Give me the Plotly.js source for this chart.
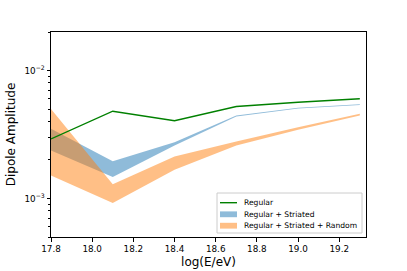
<!DOCTYPE html>
<html><head><meta charset="utf-8">
<script src="https://cdn.plot.ly/plotly-3.0.1.min.js"></script>
<style>html,body{margin:0;padding:0;background:#fff}#c{width:407px;height:271px}</style>
</head><body><div id="c"></div>
<script>
const energy = [17.8, 18.1, 18.4, 18.7, 19.0, 19.3];
const regular = [0.00292, 0.00481, 0.00405, 0.00523, 0.00565, 0.00601];
const striatedLow = [0.00237, 0.00147, 0.00259, 0.00438, 0.00505, 0.00538];
const striatedHigh = [0.00350, 0.00195, 0.00275, 0.00446, 0.00512, 0.00546];
const randomLow = [0.00151, 0.00092, 0.00168, 0.00260, 0.00345, 0.00445];
const randomHigh = [0.00500, 0.00129, 0.00213, 0.00279, 0.00360, 0.00460];
const seriesNames = ['Regular', 'Regular + Striated', 'Regular + Striated + Random'];
const xTickVals = [17.8, 18.0, 18.2, 18.4, 18.6, 18.8, 19.0, 19.2];
const xTickText = ['17.8', '18.0', '18.2', '18.4', '18.6', '18.8', '19.0', '19.2'];
const yTickVals = [0.001, 0.01];
const yTickText = ['10<sup>−3</sup>', '10<sup>−2</sup>'];
const yMinorVals = [0.0005,0.0006,0.0007,0.0008,0.0009,0.002,0.003,0.004,0.005,0.006,0.007,0.008,0.009,0.02];

const GREEN = '#008000', BLUE = 'rgba(31,119,180,0.5)', ORANGE = 'rgba(255,127,14,0.5)';
function band(lo, hi){
  return {x: energy.concat(energy.slice().reverse()), y: hi.concat(lo.slice().reverse())};
}
const b1 = band(striatedLow, striatedHigh);
const b2 = band(randomLow, randomHigh);
const traces = [
  {x: b1.x, y: b1.y, type: 'scatter', mode: 'lines', fill: 'toself', fillcolor: BLUE, line: {width: 0}, name: seriesNames[1], showlegend: false},
  {x: b2.x, y: b2.y, type: 'scatter', mode: 'lines', fill: 'toself', fillcolor: ORANGE, line: {width: 0}, name: seriesNames[2], showlegend: false},
  {x: energy, y: regular, type: 'scatter', mode: 'lines', line: {color: GREEN, width: 1.4}, name: seriesNames[0], showlegend: false}
];
// legend drawn by hand (paper coords of plot area: 51..366 x 32..237 px)
const L = 51, W = 315, B = 237, H = 205;
const px = v => (v - L) / W, py = v => (B - v) / H;
const legRows = [202.7, 214.3, 225.7];
const shapes = [
  {type: 'rect', xref: 'paper', yref: 'paper', x0: px(217), x1: px(362), y0: py(233), y1: py(193), line: {color: '#cccccc', width: 1}, fillcolor: 'rgba(255,255,255,0.8)', layer: 'above'},
  {type: 'line', xref: 'paper', yref: 'paper', x0: px(220), x1: px(237), y0: py(legRows[0]), y1: py(legRows[0]), line: {color: GREEN, width: 1.4}, layer: 'above'},
  {type: 'rect', xref: 'paper', yref: 'paper', x0: px(220), x1: px(237), y0: py(legRows[1] + 2.9), y1: py(legRows[1] - 2.9), line: {width: 0}, fillcolor: BLUE, layer: 'above'},
  {type: 'rect', xref: 'paper', yref: 'paper', x0: px(220), x1: px(237), y0: py(legRows[2] + 2.9), y1: py(legRows[2] - 2.9), line: {width: 0}, fillcolor: ORANGE, layer: 'above'}
];
const annotations = seriesNames.map((n, i) => ({
  text: n, xref: 'paper', yref: 'paper', x: px(242), y: py(legRows[i]), xanchor: 'left', yanchor: 'middle',
  showarrow: false, font: {size: 7.6, family: 'DejaVu Sans', color: '#000'}
}));
const layout = {
  width: 407, height: 271,
  margin: {l: 51, r: 41, t: 32, b: 34},
  paper_bgcolor: '#fff', plot_bgcolor: '#fff',
  font: {size: 8.8, family: 'DejaVu Sans', color: '#000'},
  showlegend: false,
  shapes: shapes, annotations: annotations,
  xaxis: {range: [17.8, 19.33], tickvals: xTickVals, ticktext: xTickText,
    showgrid: false, zeroline: false, showline: true, mirror: true, linecolor: '#000', linewidth: 1, ticks: 'outside', ticklen: 3.5, tickcolor: '#000',
    title: {text: 'log(E/eV)', font: {size: 12, family: 'DejaVu Sans'}, standoff: 4}},
  yaxis: {type: 'log', range: [Math.log10(0.0005), Math.log10(0.02)], tickvals: yTickVals, ticktext: yTickText,
    showgrid: false, zeroline: false, showline: true, mirror: true, linecolor: '#000', linewidth: 1, ticks: 'outside', ticklen: 3.5, tickcolor: '#000',
    minor: {tickvals: yMinorVals, ticks: 'outside', ticklen: 2, tickcolor: '#000', showgrid: false},
    title: {text: 'Dipole Amplitude', font: {size: 12, family: 'DejaVu Sans'}, standoff: 6}}
};
Plotly.newPlot('c', traces, layout, {staticPlot: true, displayModeBar: false});
</script></body></html>
